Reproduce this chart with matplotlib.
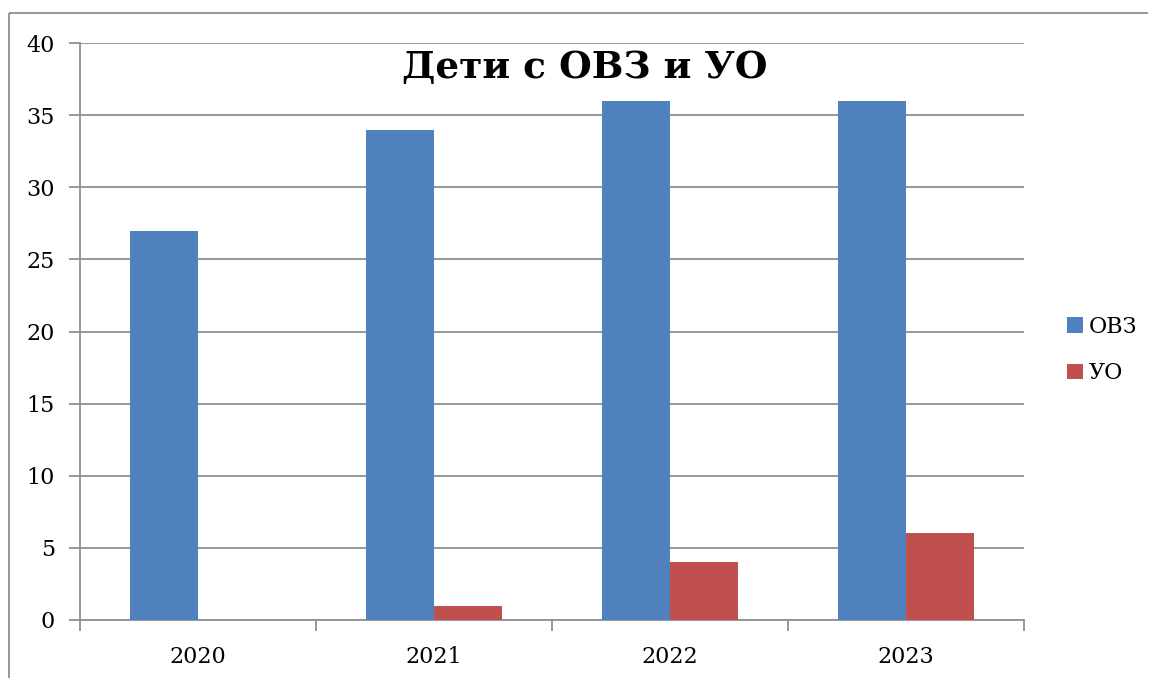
import matplotlib
matplotlib.use("Agg")
import matplotlib.pyplot as plt
import numpy as np
from matplotlib.lines import Line2D

years = ["2020", "2021", "2022", "2023"]
ovz = [27, 34, 36, 36]
uo = [0, 1, 4, 6]
series_names = ["ОВЗ", "УО"]
title = "Дети с ОВЗ и УО"

W, H = 1149, 678
fig = plt.figure(figsize=(W / 100, H / 100), dpi=100)
serif = ["DejaVu Serif"]
gcol = "#909090"

# outer frame (left and top edges only visible)
fx, fy = 9 / W, 1 - 13 / H
fig.lines.append(Line2D([fx, fx], [0, fy], transform=fig.transFigure, color=gcol,
                        linewidth=1.3, solid_capstyle="butt"))
fig.lines.append(Line2D([fx, (W - 1) / W], [fy, fy], transform=fig.transFigure, color=gcol,
                        linewidth=1.3, solid_capstyle="butt"))

ax = fig.add_axes([80 / W, 1 - 620 / H, (1024 - 80) / W, (620 - 43) / H])
x = np.arange(len(years))
bw = 0.288
b1 = ax.bar(x - bw / 2, ovz, bw, color="#4F81BD", label=series_names[0], zorder=3)
b2 = ax.bar(x + bw / 2, uo, bw, color="#C0504D", label=series_names[1], zorder=3)

ax.set_xlim(-0.5, len(years) - 0.5)
ax.set_ylim(0, 40)
ax.set_yticks(range(0, 41, 5))
ax.yaxis.grid(True, color=gcol, linewidth=1.3, zorder=0)
ax.set_axisbelow(True)
for s in ["top", "right"]:
    ax.spines[s].set_visible(False)
for s in ["left", "bottom"]:
    ax.spines[s].set_color(gcol)
    ax.spines[s].set_linewidth(1.3)

ax.set_xticks(x)
ax.set_xticklabels(years, fontfamily=serif, fontsize=16)
ax.tick_params(axis="x", length=0, pad=19)
ax.set_xticks(np.arange(-0.5, len(years), 1), minor=True)
ax.tick_params(axis="x", which="minor", length=8, width=1.3, color=gcol)
ax.tick_params(axis="y", length=8, width=1.3, color=gcol, labelsize=16, pad=10)
for lab in ax.get_yticklabels():
    lab.set_fontfamily(serif)

fig.text(585 / W, 1 - 68 / H, title, ha="center", va="center", fontsize=27,
         fontweight="bold", fontfamily=serif)

leg = fig.legend(handles=[b1, b2], labels=series_names, loc="center left",
                 bbox_to_anchor=(1047 / W, 1 - 350 / H), frameon=False,
                 prop={"family": serif, "size": 16}, handlelength=0.7, handleheight=0.7,
                 handletextpad=0.3, labelspacing=1.1)

fig.savefig("out.png", dpi=100)
